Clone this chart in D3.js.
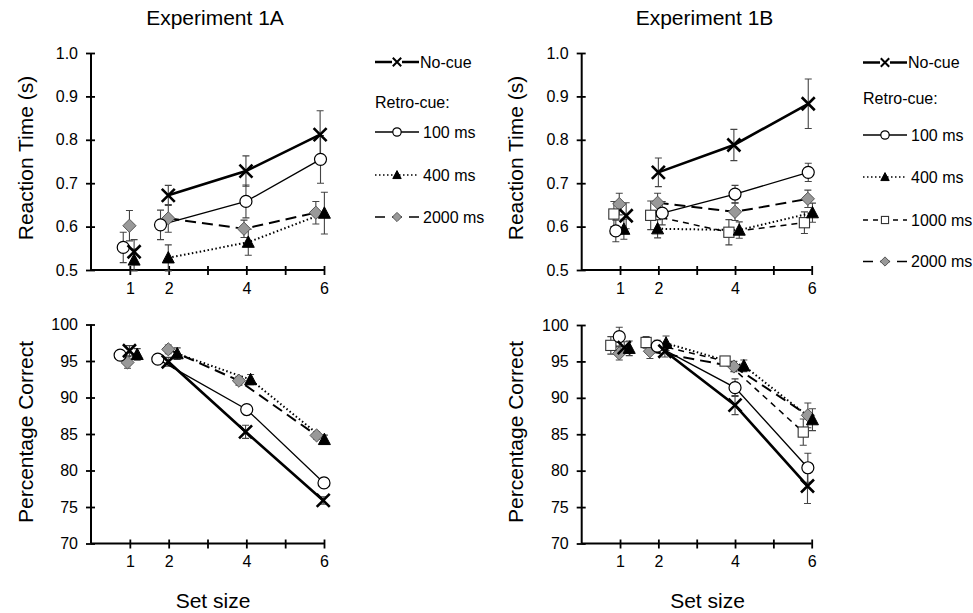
<!DOCTYPE html>
<html>
<head>
<meta charset="utf-8">
<script src="https://cdn.jsdelivr.net/npm/d3@7"></script>
<style>
  body { margin: 0; background: #fff; }
  text { font-family: "Liberation Sans", Arial, sans-serif; fill: #000; }
</style>
</head>
<body>
<svg id="chart" width="973" height="613"></svg>
<script>
// set sizes and conditions
var setSizes = [1, 2, 4, 6];
var conds1A = ["No-cue", "100 ms", "400 ms", "2000 ms"];
var conds1B = ["No-cue", "100 ms", "400 ms", "1000 ms", "2000 ms"];
var rtTicks = [0.5, 0.6, 0.7, 0.8, 0.9, 1.0];
var accTicks = [70, 75, 80, 85, 90, 95, 100];

// Experiment 1A reaction time (s), rows follow conds1A
var rt1A = [
  [0.542, 0.672, 0.728, 0.812],
  [0.552, 0.604, 0.658, 0.755],
  [0.523, 0.528, 0.564, 0.631],
  [0.602, 0.619, 0.595, 0.632]
];
var rt1AErr = [
  [0.028, 0.023, 0.035, 0.055],
  [0.035, 0.034, 0.038, 0.055],
  [0.025, 0.030, 0.030, 0.048],
  [0.035, 0.032, 0.020, 0.026]
];
// plotted (jittered) set size
var rt1AX = [
  [1.11, 1.99, 3.99, 5.90],
  [0.83, 1.79, 3.99, 5.91],
  [1.11, 1.99, 4.05, 6.01],
  [0.99, 1.99, 3.94, 5.79]
];

// Experiment 1A percentage correct
var acc1A = [
  [96.4, 94.9, 85.3, 75.9],
  [95.8, 95.25, 88.35, 78.3],
  [95.9, 96.0, 92.45, 84.25],
  [94.8, 96.6, 92.3, 84.8]
];
var acc1AErr = [
  [0.7, 0.6, 0.9, 0.5],
  [0.6, 0.6, 0.7, 0.7],
  [0.8, 0.8, 0.7, 0.6],
  [0.8, 0.6, 0.6, 0.5]
];
var acc1AX = [
  [0.99, 1.99, 3.98, 5.98],
  [0.75, 1.72, 4.01, 6.00],
  [1.19, 2.22, 4.11, 6.01],
  [0.94, 1.99, 3.81, 5.81]
];

// Experiment 1B reaction time (s), rows follow conds1B
var rt1B = [
  [0.625, 0.725, 0.788, 0.883],
  [0.590, 0.631, 0.675, 0.725],
  [0.594, 0.595, 0.592, 0.632],
  [0.629, 0.626, 0.587, 0.609],
  [0.652, 0.655, 0.634, 0.664]
];
var rt1BErr = [
  [0.030, 0.033, 0.036, 0.057],
  [0.025, 0.027, 0.020, 0.021],
  [0.023, 0.021, 0.019, 0.022],
  [0.029, 0.033, 0.029, 0.025],
  [0.025, 0.022, 0.020, 0.020]
];
var rt1BX = [
  [1.16, 2.00, 3.97, 5.91],
  [0.89, 2.10, 4.00, 5.91],
  [1.10, 1.98, 4.11, 6.02],
  [0.84, 1.80, 3.84, 5.81],
  [0.98, 1.98, 4.00, 5.90]
];

// Experiment 1B percentage correct
var acc1B = [
  [96.9, 96.4, 89.0, 77.9],
  [98.4, 97.1, 91.4, 80.4],
  [96.8, 97.5, 94.4, 87.0],
  [97.2, 97.6, 95.05, 85.3],
  [96.1, 96.4, 94.3, 87.6]
];
var acc1BErr = [
  [0.8, 0.8, 1.3, 2.4],
  [1.3, 0.8, 1.2, 2.0],
  [1.0, 1.0, 0.8, 1.5],
  [1.2, 0.8, 0.5, 1.8],
  [0.9, 1.0, 0.7, 1.7]
];
var acc1BX = [
  [1.11, 2.17, 4.00, 5.89],
  [0.98, 1.97, 4.00, 5.90],
  [1.24, 2.20, 4.23, 6.02],
  [0.76, 1.68, 3.74, 5.78],
  [0.98, 1.78, 3.97, 5.90]
];

// look of each condition
var styles = {
  "No-cue":  { width: 2.6, dash: null,   marker: "x" },
  "100 ms":  { width: 1.3, dash: null,   marker: "circle" },
  "400 ms":  { width: 2,   dash: "1.5,2.5", marker: "triangle" },
  "1000 ms": { width: 1.5, dash: "6,5",  marker: "square" },
  "2000 ms": { width: 2,   dash: "11,6", marker: "diamond" }
};

var svg = d3.select("#chart");

function drawMarker(g, type, x, y, s) {
  // s = half-size of the marker
  if (type === "x") {
    g.append("path")
      .attr("d", "M" + (x - s) + "," + (y - s) + "L" + (x + s) + "," + (y + s) +
                 "M" + (x - s) + "," + (y + s) + "L" + (x + s) + "," + (y - s))
      .attr("stroke", "#000").attr("stroke-width", s > 5 ? 2.6 : 2).attr("fill", "none");
  } else if (type === "circle") {
    g.append("circle").attr("cx", x).attr("cy", y).attr("r", s)
      .attr("fill", "#fff").attr("stroke", "#000").attr("stroke-width", 1.2);
  } else if (type === "triangle") {
    g.append("path")
      .attr("d", "M" + x + "," + (y - s * 1.05) + "L" + (x + s) + "," + (y + s * 0.85) + "L" + (x - s) + "," + (y + s * 0.85) + "Z")
      .attr("fill", "#000").attr("stroke", "#000").attr("stroke-width", 1);
  } else if (type === "square") {
    g.append("rect").attr("x", x - s * 0.85).attr("y", y - s * 0.85)
      .attr("width", s * 1.7).attr("height", s * 1.7)
      .attr("fill", "#fff").attr("stroke", "#333").attr("stroke-width", 1.1);
  } else if (type === "diamond") {
    g.append("path")
      .attr("d", "M" + x + "," + (y - s * 1.1) + "L" + (x + s * 1.1) + "," + y + "L" + x + "," + (y + s * 1.1) + "L" + (x - s * 1.1) + "," + y + "Z")
      .attr("fill", "#999").attr("stroke", "#555").attr("stroke-width", 1);
  }
}

function panel(opts) {
  var x = d3.scaleLinear().domain([0, 6]).range([opts.left, opts.right]);
  var y = d3.scaleLinear().domain([opts.ticks[0], opts.ticks[opts.ticks.length - 1]]).range([opts.bottom, opts.top]);
  var g = svg.append("g");

  // y axis
  var yAxis = g.append("g").attr("transform", "translate(" + opts.left + ",0)")
    .call(d3.axisLeft(y).tickValues(opts.ticks).tickSize(5).tickPadding(8)
      .tickFormat(opts.fmt));
  // x axis
  var xAxis = g.append("g").attr("transform", "translate(0," + opts.bottom + ")")
    .call(d3.axisBottom(x).tickValues([1, 2, 3, 4, 5, 6]).tickSize(5).tickPadding(6)
      .tickFormat(function (d) { return setSizes.indexOf(d) >= 0 ? d : ""; }));

  [yAxis, xAxis].forEach(function (a) {
    a.select(".domain").attr("stroke", "#000").attr("stroke-width", 2);
    a.selectAll(".tick line").attr("stroke", "#000").attr("stroke-width", 1.8);
    a.selectAll(".tick text").style("font-size", "16px").attr("fill", "#000");
  });
  yAxis.select(".domain").attr("d", "M0," + opts.bottom + "V" + opts.top);
  xAxis.select(".domain").attr("d", "M" + opts.left + ",0H" + opts.right);
  yAxis.selectAll(".tick line").attr("x1", 4);
  xAxis.selectAll(".tick line").attr("y1", -4);
  xAxis.selectAll(".tick text").attr("dy", "0.8em");

  // y title
  g.append("text")
    .attr("transform", "translate(" + opts.titleX + "," + opts.titleY + ") rotate(-90)")
    .attr("text-anchor", "middle")
    .style("font-size", "21px").text(opts.title);

  var conds = opts.conds;
  // error bars
  conds.forEach(function (c, i) {
    opts.means[i].forEach(function (m, j) {
      var cx = x(opts.xs[i][j]);
      var e = opts.errs[i][j];
      var y0 = y(m - e), y1 = y(m + e);
      g.append("path")
        .attr("d", "M" + cx + "," + y0 + "V" + y1 +
                   "M" + (cx - 3.5) + "," + y0 + "H" + (cx + 3.5) +
                   "M" + (cx - 3.5) + "," + y1 + "H" + (cx + 3.5))
        .attr("stroke", "#444").attr("stroke-width", 1.1).attr("fill", "none");
    });
  });

  // connecting lines (set sizes 2-6)
  var line = d3.line().x(function (d) { return x(d[0]); }).y(function (d) { return y(d[1]); });
  conds.forEach(function (c, i) {
    var pts = [1, 2, 3].map(function (j) { return [opts.xs[i][j], opts.means[i][j]]; });
    g.append("path").attr("d", line(pts))
      .attr("fill", "none").attr("stroke", "#000")
      .attr("stroke-width", styles[c].width)
      .attr("stroke-dasharray", styles[c].dash);
  });

  // markers, drawn back to front like the original
  var order = conds.slice().reverse();
  order.forEach(function (c) {
    var i = conds.indexOf(c);
    opts.means[i].forEach(function (m, j) {
      drawMarker(g, styles[c].marker, x(opts.xs[i][j]), y(m), c === "No-cue" ? 6.5 : 6);
    });
  });
}

function legend(conds, lx, ys, retroY) {
  var g = svg.append("g");
  conds.forEach(function (c, i) {
    var st = styles[c];
    g.append("line").attr("x1", lx).attr("x2", lx + 44).attr("y1", ys[i]).attr("y2", ys[i])
      .attr("stroke", "#000").attr("stroke-width", c === "No-cue" ? 2.4 : (st.dash ? 1.6 : 1.3))
      .attr("stroke-dasharray", c === "2000 ms" ? "10,7" : (c === "1000 ms" ? "5,5" : st.dash));
    if (st.marker === "x") {
      g.append("rect").attr("x", lx + 17).attr("y", ys[i] - 5).attr("width", 10).attr("height", 10).attr("fill", "#fff");
    }
    drawMarker(g, st.marker, lx + 22, ys[i], 4.2);
    g.append("text").attr("x", c === "No-cue" ? lx + 45 : lx + 48).attr("y", ys[i]).attr("dy", "0.35em")
      .style("font-size", "16px").text(c);
  });
  g.append("text").attr("x", lx).attr("y", retroY).attr("dy", "0.35em")
    .style("font-size", "16px").text("Retro-cue:");
}

panel({ left: 91, right: 324, top: 53, bottom: 270, ticks: rtTicks, fmt: d3.format(".1f"),
  title: "Reaction Time (s)", titleX: 33, titleY: 158,
  conds: conds1A, means: rt1A, errs: rt1AErr, xs: rt1AX });
panel({ left: 91, right: 324, top: 324.5, bottom: 543.5, ticks: accTicks, fmt: d3.format("d"),
  title: "Percentage Correct", titleX: 33, titleY: 432,
  conds: conds1A, means: acc1A, errs: acc1AErr, xs: acc1AX });
panel({ left: 581.7, right: 811.7, top: 53, bottom: 270, ticks: rtTicks, fmt: d3.format(".1f"),
  title: "Reaction Time (s)", titleX: 523, titleY: 158,
  conds: conds1B, means: rt1B, errs: rt1BErr, xs: rt1BX });
panel({ left: 581.7, right: 811.7, top: 325, bottom: 543.5, ticks: accTicks, fmt: d3.format("d"),
  title: "Percentage Correct", titleX: 523, titleY: 432,
  conds: conds1B, means: acc1B, errs: acc1BErr, xs: acc1BX });

legend(conds1A, 375, [62, 132, 175, 217], 102);
legend(conds1B, 863, [62.5, 135, 177, 220, 261.5], 98.5);

// titles
svg.append("text").attr("x", 215).attr("y", 25).attr("text-anchor", "middle")
  .style("font-size", "21px").text("Experiment 1A");
svg.append("text").attr("x", 704.5).attr("y", 25).attr("text-anchor", "middle")
  .style("font-size", "21px").text("Experiment 1B");
svg.append("text").attr("x", 213).attr("y", 608).attr("text-anchor", "middle")
  .style("font-size", "21px").text("Set size");
svg.append("text").attr("x", 707.5).attr("y", 608).attr("text-anchor", "middle")
  .style("font-size", "21px").text("Set size");
</script>
</body>
</html>
